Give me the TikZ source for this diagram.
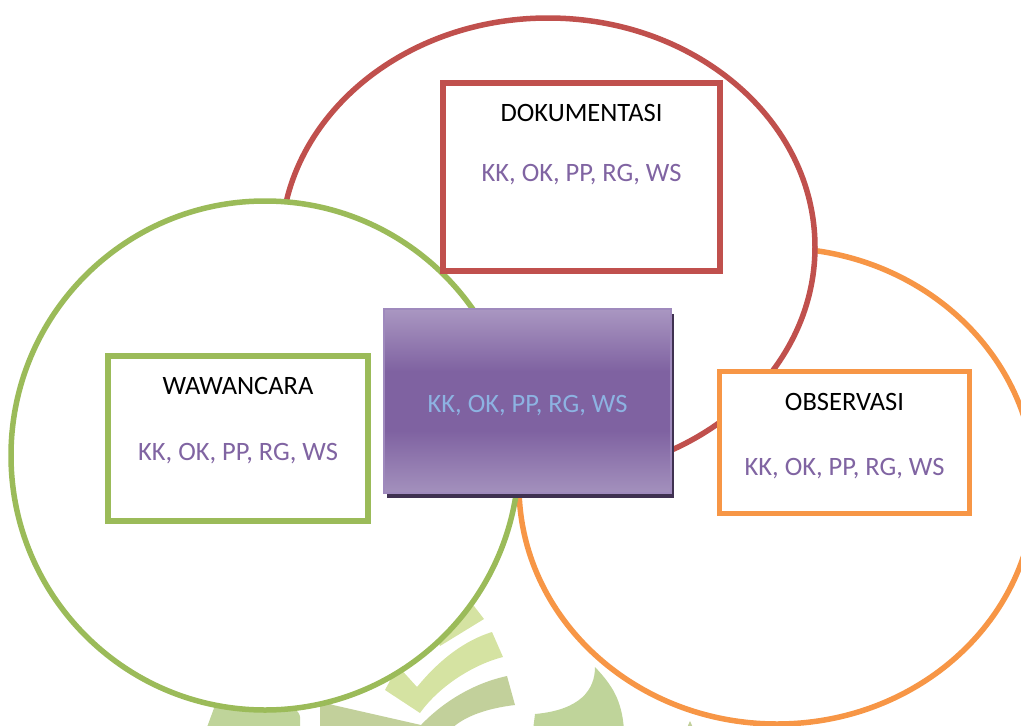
\documentclass[tikz,border=0pt]{standalone}
\usepackage{fontspec}
\setmainfont{Carlito}
\usetikzlibrary{shadows}
\definecolor{cred}{HTML}{C0504D}
\definecolor{cgreen}{HTML}{9BBB59}
\definecolor{corange}{HTML}{F79646}
\definecolor{cpurple}{HTML}{8064A2}
\definecolor{ctextblue}{HTML}{8DB3E2}
\definecolor{cbTop}{HTML}{B1A0C7}
\definecolor{cbBot}{HTML}{AA99C2}
\definecolor{cbDark}{HTML}{7F62A1}
\definecolor{cbBorder}{HTML}{9F8ABD}
\definecolor{cshadow}{HTML}{3F3151}
\definecolor{wmLight}{HTML}{D5E3A2}
\definecolor{wmMid}{HTML}{C2D09B}
\definecolor{wmLeaf}{HTML}{BFD49A}
\pgfdeclareverticalshading{cboxshade}{100bp}{color(0bp)=(cbBot); color(22bp)=(cbBot); color(42bp)=(cbDark); color(58bp)=(cbDark); color(78bp)=(cbTop); color(100bp)=(cbTop)}
\tikzset{
  ring/.style={draw=#1, line width=5.5pt, fill=white},
  framebox/.style={draw=#1, line width=5.5pt, fill=white, inner sep=0pt, rectangle},
  title/.style={anchor=base, text=black, font=\fontsize{26.5}{30}\selectfont, inner sep=0pt},
  codes/.style={anchor=base, text=cpurple, font=\fontsize{26.5}{30}\selectfont, inner sep=0pt},
  centerbox/.style={rectangle, inner sep=0pt, shading=cboxshade, draw=cbBorder, line width=2pt,
    drop shadow={shadow xshift=3pt, shadow yshift=-5pt, fill=cshadow, opacity=1}},
}
\begin{document}
\begin{tikzpicture}[x=1pt,y=-1pt]
\useasboundingbox (0,0) rectangle (1021,726);
% watermark pieces
\fill[wmLight] (430,622) -- (474,606) -- (484,619) -- (440,646) -- cycle;
\fill[wmLight] (398,666) -- (417,687) .. controls (435,665) and (460,642) .. (492,632) -- (503,657) .. controls (475,664) and (440,685) .. (420,713) -- (385,690) -- cycle;
\fill[wmMid] (320,700) -- (333,705) -- (421,725) .. controls (440,705) and (470,684) .. (507,676) -- (515,705) .. controls (490,708) and (465,715) .. (450,730) -- (320,730) -- cycle;
\fill[wmLeaf] (217,700) -- (280,700) .. controls (292,705) and (300,712) .. (300,717) -- (300,730) -- (206,730) -- cycle;
\fill[wmLeaf] (595,667) .. controls (595,690) and (580,710) .. (535,714) -- (533,730) -- (624,730) .. controls (622,700) and (612,685) .. (595,667) -- cycle;
\fill[wmMid] (690,721) -- (694,730) -- (686,730) -- cycle;
% circles
\draw[ring=corange] (777,486) ellipse [x radius=258pt, y radius=238pt];
\draw[ring=cred] (548,247) ellipse [x radius=267pt, y radius=229pt];
\draw[ring=cgreen] (265,455.5) ellipse [x radius=254pt, y radius=254.5pt];
% center box
\node[centerbox, minimum width=287pt, minimum height=184pt] (core) at (527.5,401) {};
\node[anchor=base, text=ctextblue, font=\fontsize{26.5}{30}\selectfont, inner sep=0pt] (coretext) at (527.5,412.4) {KK, OK, PP, RG, WS};
% boxes
\node[framebox=cred, minimum width=277pt, minimum height=188pt] (dok) at (581.5,177) {};
\node[title] (doktitle) at (581.5,121.4) {DOKUMENTASI};
\node[codes] (dokcodes) at (581.5,181.4) {KK, OK, PP, RG, WS};
\node[framebox=cgreen, minimum width=260pt, minimum height=165pt] (waw) at (238,438.5) {};
\node[title] (wawtitle) at (238,394.4) {WAWANCARA};
\node[codes] (wawcodes) at (238,460.4) {KK, OK, PP, RG, WS};
\node[framebox=corange, minimum width=250pt, minimum height=142pt] (obs) at (844.5,442.5) {};
\node[title] (obstitle) at (844.5,410.4) {OBSERVASI};
\node[codes] (obscodes) at (844.5,475.4) {KK, OK, PP, RG, WS};
\end{tikzpicture}
\end{document}
